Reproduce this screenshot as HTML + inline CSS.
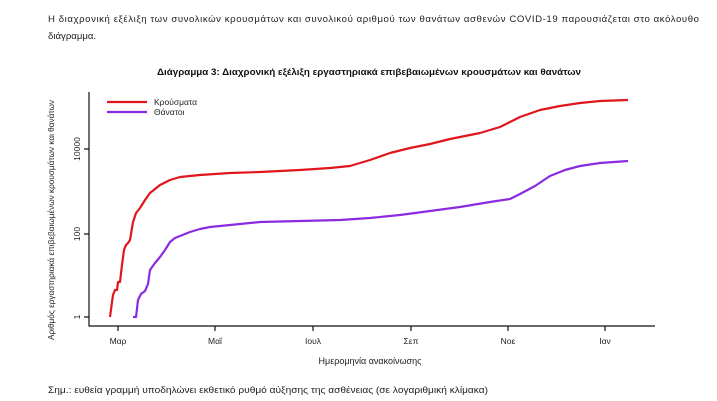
<!DOCTYPE html>
<html><head><meta charset="utf-8"><style>
body{margin:0;background:#fff;}
svg{display:block;font-family:"Liberation Sans",sans-serif;}
</style></head><body>
<svg width="717" height="401" viewBox="0 0 717 401">
<text x="48" y="22" font-size="9.6" fill="#222" textLength="651" lengthAdjust="spacing">Η διαχρονική εξέλιξη των συνολικών κρουσμάτων και συνολικού αριθμού των θανάτων ασθενών COVID-19 παρουσιάζεται στο ακόλουθο</text>
<text x="48" y="39" font-size="9.6" fill="#222">διάγραμμα.</text>
<text x="369" y="75" font-size="9.6" font-weight="bold" text-anchor="middle" fill="#111" textLength="424" lengthAdjust="spacingAndGlyphs">Διάγραμμα 3: Διαχρονική εξέλιξη εργαστηριακά επιβεβαιωμένων κρουσμάτων και θανάτων</text>
<g stroke="#111" stroke-width="1.2" fill="none">
<path d="M89,92 V326 H655"/>
<path d="M84,317 H89 M84,234 H89 M84,149 H89"/>
<path d="M118,326 V331 M215,326 V331 M313,326 V331 M411,326 V331 M508,326 V331 M605,326 V331"/>
</g>
<g font-size="8.5" fill="#222" text-anchor="middle">
<text transform="translate(80,317) rotate(-90)">1</text>
<text transform="translate(80,234) rotate(-90)">100</text>
<text transform="translate(80,149) rotate(-90)">10000</text>
<text x="118" y="344">Μαρ</text><text x="215" y="344">Μαΐ</text><text x="313" y="344">Ιουλ</text>
<text x="411" y="344">Σεπ</text><text x="508" y="344">Νοε</text><text x="605" y="344">Ιαν</text>
<text x="370" y="364" font-size="9">Ημερομηνία ανακοίνωσης</text>
<text transform="translate(54,220) rotate(-90)" font-size="8.5" textLength="240" lengthAdjust="spacingAndGlyphs">Αριθμός εργαστηριακά επιβεβαιωμένων κρουσμάτων και θανάτων</text>
</g>
<line x1="107" y1="102" x2="147" y2="102" stroke="#e0161c" stroke-width="2.2"/>
<line x1="107" y1="112" x2="147" y2="112" stroke="#8a2be2" stroke-width="2.2"/>
<text x="154" y="105" font-size="8.5" fill="#222">Κρούσματα</text>
<text x="154" y="115" font-size="8.5" fill="#222">Θάνατοι</text>
<polyline fill="none" stroke="#e0161c" stroke-width="2.2" stroke-linejoin="round" points="110,317 113,295 115,290 117,290 118,282 120,282 122,265 124,250 126,245 128,243 130,240 133,222 136,213 140,208 145,200 150,193 160,185 170,180 180,177 190,176 200,175 230,173 260,172 300,170 330,168 350,166 370,160 390,153 410,148 430,144 450,139 480,133 500,127 520,117 540,110 560,106 580,103 600,101 628,100"/>
<polyline fill="none" stroke="#8a2be2" stroke-width="2.2" stroke-linejoin="round" points="133,317 136,317 138,300 141,294 145,291 148,284 150,270 155,263 160,257 165,250 170,242 175,238 180,236 190,232 200,229 210,227 230,225 260,222 300,221 340,220 370,218 400,215 430,211 460,207 490,202 510,199 520,194 535,186 550,176 565,170 580,166 600,163 628,161"/>
<text x="48" y="393" font-size="9.6" fill="#222" textLength="440" lengthAdjust="spacingAndGlyphs">Σημ.: ευθεία γραμμή υποδηλώνει εκθετικό ρυθμό αύξησης της ασθένειας (σε λογαριθμική κλίμακα)</text>
</svg>
</body></html>
